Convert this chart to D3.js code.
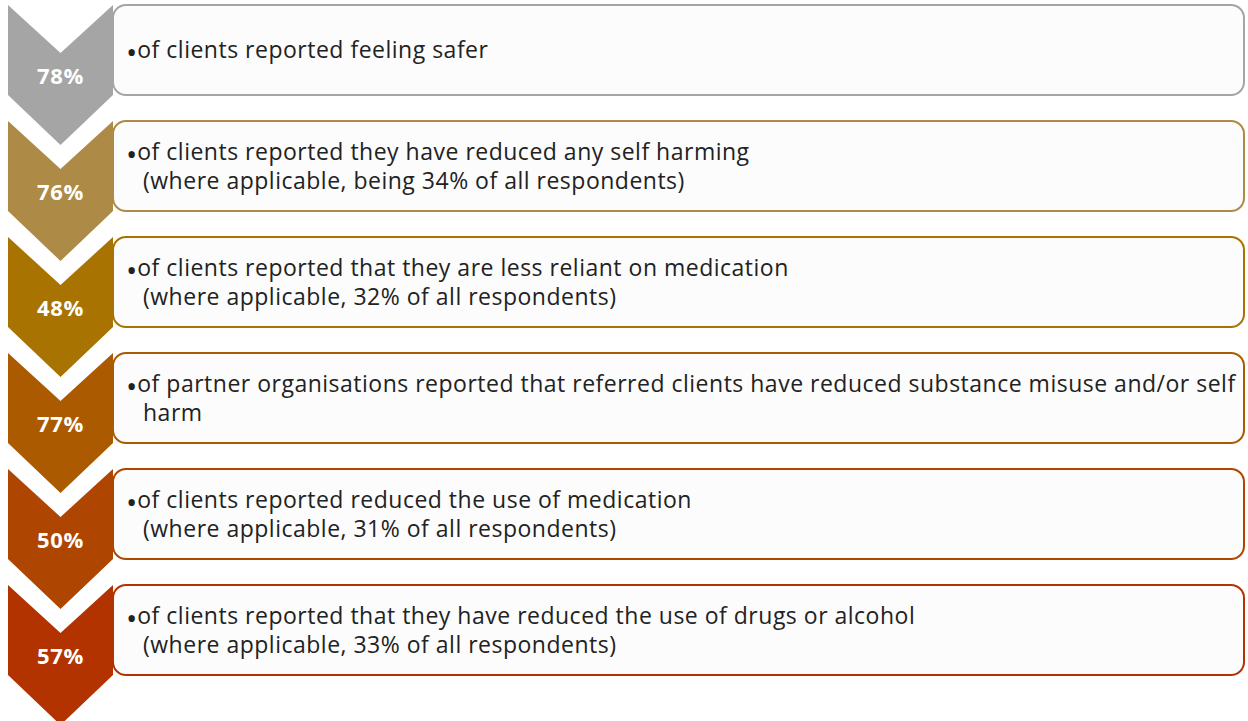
<!DOCTYPE html>
<html lang="en">
  <head>
    <meta charset="UTF-8" />
    <title>Outcomes</title>
    <script src="https://cdn.jsdelivr.net/npm/d3@7"></script>
    <style>
      body {
        margin: 0;
        background: #ffffff;
      }
      .pct {
        font-family: "Open Sans", sans-serif;
        font-weight: bold;
        font-size: 22px;
        letter-spacing: 0.6px;
        fill: #ffffff;
      }
      .label {
        font-family: "Open Sans", sans-serif;
        font-size: 23px;
        letter-spacing: 0.5px;
        fill: #222222;
      }
      .bullet {
        font-size: 30px;
        letter-spacing: 0;
      }
    </style>
  </head>
  <body>
    <svg id="chart" width="1248" height="721"></svg>
    <script>
      // values
      let percents = ["78%", "76%", "48%", "77%", "50%", "57%"];
      let firstLines = [
        "of clients reported feeling safer",
        "of clients reported they have reduced any self harming",
        "of clients reported that they are less reliant on medication",
        "of partner organisations reported that referred clients have reduced substance misuse and/or self",
        "of clients reported reduced the use of medication",
        "of clients reported that they have reduced the use of drugs or alcohol",
      ];
      let secondLines = [
        "",
        "(where applicable, being 34% of all respondents)",
        "(where applicable, 32% of all respondents)",
        "harm",
        "(where applicable, 31% of all respondents)",
        "(where applicable, 33% of all respondents)",
      ];
      let colors = ["#a5a5a5", "#ad8a45", "#a87300", "#ab5a00", "#ae4500", "#b23300"];

      let svg = d3.select("#chart");

      // rows
      let y = d3.scaleLinear().domain([0, 5]).range([5, 585]);
      let rowH = 90;
      let chevX0 = 8,
        chevX1 = 113,
        depth = 50;
      let boxX1 = 1244;

      let rows = svg
        .selectAll("g.row")
        .data(percents)
        .join("g")
        .attr("class", "row")
        .attr("transform", (d, i) => "translate(0," + y(i) + ")");

      // rounded boxes
      rows
        .append("rect")
        .attr("x", chevX1)
        .attr("y", 0)
        .attr("width", boxX1 - chevX1)
        .attr("height", rowH)
        .attr("rx", 13)
        .attr("fill", "#fcfcfc")
        .attr("stroke", (d, i) => colors[i])
        .attr("stroke-width", 2);

      // chevrons
      let mid = (chevX0 + chevX1) / 2;
      rows
        .append("path")
        .attr(
          "d",
          "M" + chevX0 + ",0 L" + mid + "," + (depth - 2) + " L" + chevX1 + ",0 L" + chevX1 + "," + rowH +
            " L" + mid + "," + (rowH + depth) + " L" + chevX0 + "," + rowH + " Z"
        )
        .attr("fill", (d, i) => colors[i]);

      rows
        .append("text")
        .attr("class", "pct")
        .attr("x", mid)
        .attr("y", 79)
        .attr("text-anchor", "middle")
        .text((d) => d);

      // labels
      rows.each(function (d, i) {
        let g = d3.select(this);
        let two = secondLines[i] !== "";
        let base = two ? rowH / 2 - 6.5 : rowH / 2 + 8;
        let t = g.append("text").attr("class", "label").attr("x", 126).attr("y", base);
        t.append("tspan").attr("class", "bullet").attr("dy", 5).text("•");
        t.append("tspan").attr("dy", -5).text(firstLines[i]);
        if (two) {
          g.append("text")
            .attr("class", "label")
            .attr("x", 143)
            .attr("y", base + 29)
            .text(secondLines[i]);
        }
      });
    </script>
  </body>
</html>
